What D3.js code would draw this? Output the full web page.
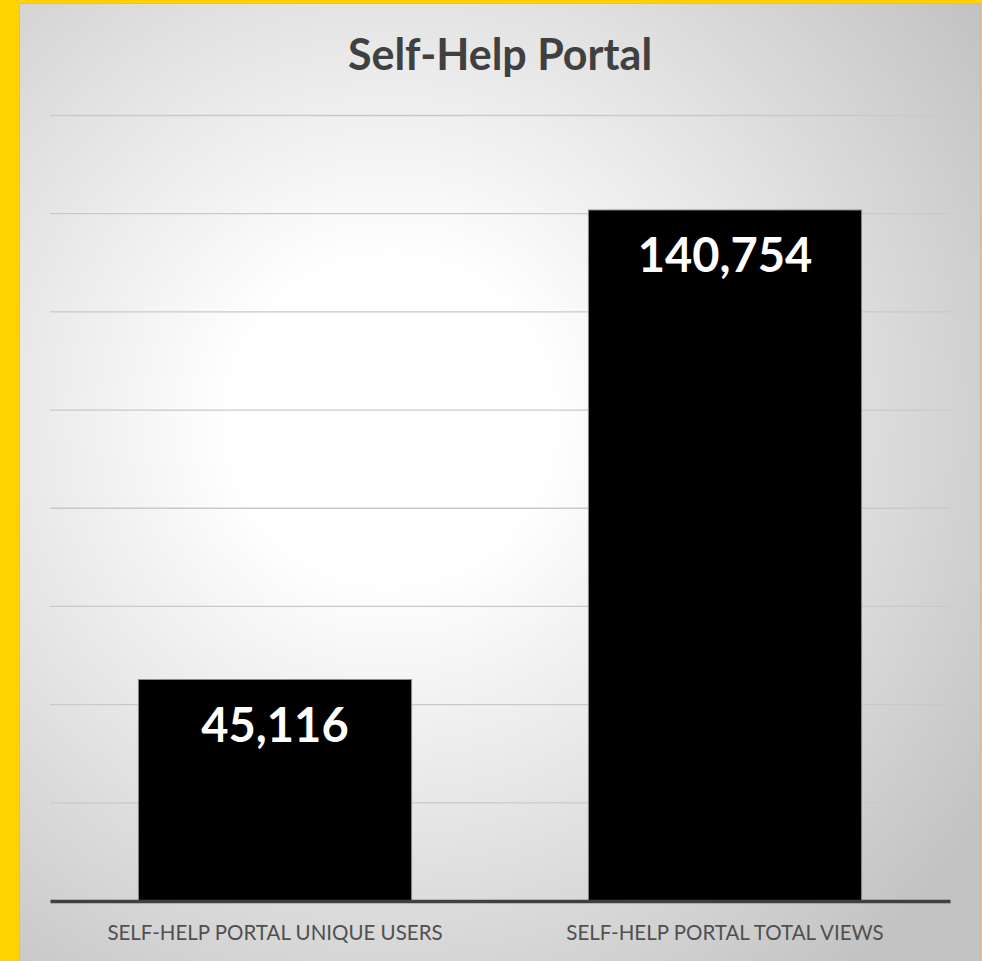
<!DOCTYPE html>
<html>
<head>
<meta charset="utf-8">
<script src="https://cdn.jsdelivr.net/npm/d3@7"></script>
<style>
    body { margin: 0; background: #FFD400; overflow: hidden; }
    #chart { width: 982px; height: 961px; }
    svg { display: block; }
</style>
</head>
<body>
<div id="chart"></div>
<script>
// chart data
const categories = ["SELF-HELP PORTAL UNIQUE USERS", "SELF-HELP PORTAL TOTAL VIEWS"];
const values = [45116, 140754];
const gridTicks = [20000, 40000, 60000, 80000, 100000, 120000, 140000, 160000];
const chartTitle = "Self-Help Portal";

const W = 982, H = 961;

const svg = d3.select("#chart").append("svg")
    .attr("width", W)
    .attr("height", H);

// background gradient
const defs = svg.append("defs");
const grad = defs.append("radialGradient")
    .attr("id", "bg")
    .attr("gradientUnits", "userSpaceOnUse")
    .attr("cx", 390).attr("cy", 420).attr("r", 720);
grad.append("stop").attr("offset", "0%").attr("stop-color", "#ffffff");
grad.append("stop").attr("offset", "22%").attr("stop-color", "#ffffff");
grad.append("stop").attr("offset", "55%").attr("stop-color", "#e6e6e6");
grad.append("stop").attr("offset", "100%").attr("stop-color", "#c2c2c2");

svg.append("rect")
    .attr("x", 19.5).attr("y", 3.5)
    .attr("width", 961).attr("height", H)
    .attr("fill", "url(#bg)")
    .attr("stroke", "#bdbdbd")
    .attr("stroke-width", 1);

const x = d3.scaleBand()
    .domain(categories)
    .range([50, 950])
    .paddingInner(0.393)
    .paddingOuter(0.1965);

const y = d3.scaleLinear()
    .domain([0, 160000])
    .range([901, 115.5]);

// gridlines
svg.append("g")
    .attr("class", "grid")
    .selectAll("line")
    .data(gridTicks)
    .enter().append("line")
    .attr("x1", 50).attr("x2", 950)
    .attr("y1", d => y(d)).attr("y2", d => y(d))
    .attr("stroke", "#c9c9c9")
    .attr("stroke-width", 1.3);

// bars
svg.selectAll(".bar")
    .data(values)
    .enter().append("rect")
    .attr("class", "bar")
    .attr("x", (d, i) => x(categories[i]))
    .attr("y", d => y(d))
    .attr("width", x.bandwidth())
    .attr("height", d => y(0) - y(d))
    .attr("fill", "#000")
    .attr("stroke", "#8c8c8c")
    .attr("stroke-width", 1);

// value labels
svg.selectAll(".value")
    .data(values)
    .enter().append("text")
    .attr("class", "value")
    .attr("x", (d, i) => x(categories[i]) + x.bandwidth() / 2)
    .attr("y", d => y(d) + 62)
    .attr("text-anchor", "middle")
    .attr("fill", "#fff")
    .style("font-family", "Lato, 'Open Sans', sans-serif")
    .style("font-weight", "bold")
    .style("font-size", "47px")
    .text(d => d3.format(",")(d));

// x axis
const xAxis = d3.axisBottom(x).tickSize(0).tickPadding(24);
const gx = svg.append("g")
    .attr("class", "x-axis")
    .attr("transform", `translate(0, ${y(0)})`)
    .call(xAxis);
gx.select(".domain")
    .attr("stroke", "#404040")
    .attr("stroke-width", 3.5);
gx.selectAll("text")
    .attr("fill", "#505050")
    .style("font-family", "Lato, 'Open Sans', sans-serif")
    .style("font-size", "20.5px");

// title
svg.append("text")
    .attr("x", 500)
    .attr("y", 70)
    .attr("text-anchor", "middle")
    .attr("fill", "#404040")
    .style("font-family", "Lato, 'Open Sans', sans-serif")
    .style("font-weight", "bold")
    .style("font-size", "43px")
    .text(chartTitle);
</script>
</body>
</html>
